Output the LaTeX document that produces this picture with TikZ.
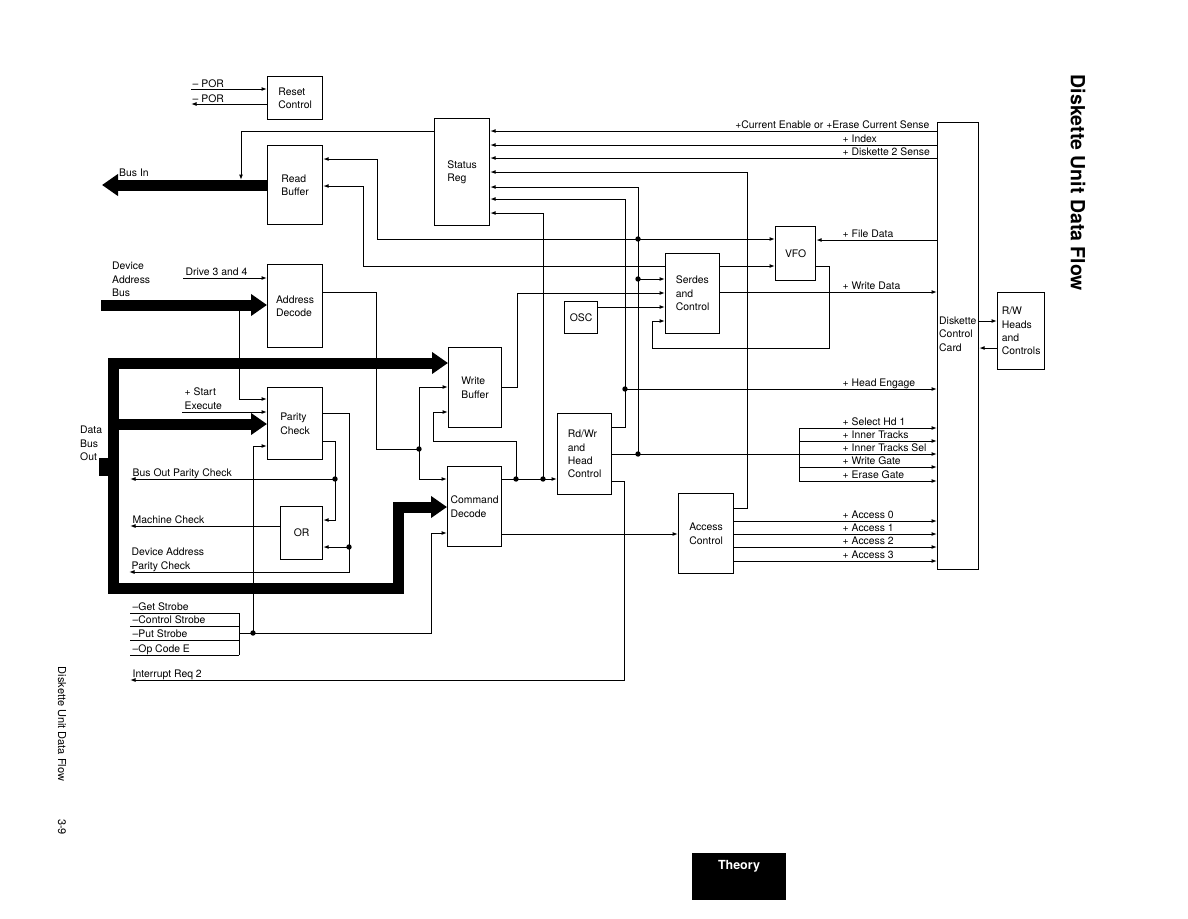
\documentclass[tikz,border=0pt]{standalone}
\usepackage{fontspec}
\setmainfont{TeX Gyre Heros}
\usetikzlibrary{arrows.meta}

\begin{document}
\begin{tikzpicture}[x=1pt,y=-1pt,
  font=\fontsize{10.4}{13.4}\selectfont,
  unitbox/.style={draw,line width=1.2pt,anchor=north west,align=left,inner sep=1pt},
  sigline/.style={line width=1pt},
  sigarrow/.style={sigline,-{Latex[length=5.5pt,width=4pt]}},
  busarrow/.style={line width=11pt,-{Triangle[length=16pt,width=21pt]}},
  siglabel/.style={anchor=south west,inner sep=2.5pt,text depth=0pt,align=left}
]
  \useasboundingbox (0,0) rectangle (1188,918);

  \node[unitbox,minimum width=55,minimum height=43] (reset) at (267,76) {Reset\\Control};
  \node[unitbox,minimum width=55,minimum height=79] (readbuf) at (267,145) {Read\\Buffer};
  \node[unitbox,minimum width=55,minimum height=107] (statreg) at (434,118) {Status\\Reg};
  \node[unitbox,minimum width=55,minimum height=83] (addrdec) at (267,264) {Address\\Decode};
  \node[unitbox,minimum width=55,minimum height=72] (parity) at (267,387) {Parity\\Check};
  \node[unitbox,minimum width=42,minimum height=53] (orgate) at (280,506) {OR};
  \node[unitbox,minimum width=53,minimum height=80] (writebuf) at (448,347) {Write\\Buffer};
  \node[unitbox,minimum width=54,minimum height=80] (cmddec) at (447,466) {Command\\Decode};
  \node[unitbox,minimum width=54,minimum height=81] (rdwr) at (557,413) {Rd/Wr\\and\\Head\\Control};
  \node[unitbox,minimum width=33,minimum height=32] (osc) at (564,301) {OSC};
  \node[unitbox,minimum width=54,minimum height=80] (serdes) at (665,253) {Serdes\\and\\Control};
  \node[unitbox,minimum width=40,minimum height=54] (vfo) at (775,226) {VFO};
  \node[unitbox,minimum width=55,minimum height=80] (access) at (678,493) {Access\\Control};
  \node[unitbox,minimum width=41,minimum height=447] (ctrlcard) at (937,122) {};
  \node[anchor=west,align=left,inner sep=1pt] (cardtext) at (938,334) {Diskette\\Control\\Card};
  \node[unitbox,minimum width=47,minimum height=77] (rwheads) at (997,292) {R/W\\Heads\\and\\Controls};

  % reset and buses on the left
  \node[siglabel,inner sep=1.5pt] (porin) at (191,89) {-- POR};
  \node[siglabel,inner sep=1.5pt] (porout) at (191,104) {-- POR};
  \draw[sigarrow] (porin.south west) -- (reset.west |- porin.south west);
  \draw[sigarrow] (reset.west |- porout.south west) -- (porout.south west);

  \node[anchor=base west,inner sep=0pt] (businlbl) at (119,176) {Bus In};
  \coordinate (businend) at (102,185);
  \coordinate (busintap) at (241,180);
  \draw[busarrow] (readbuf.west |- businend) -- (businend);
  \draw[sigarrow] (statreg.west |- 0,131) -| (busintap);

  \node[anchor=north west,align=left,inner sep=0pt] (devbuslbl) at (112,262) {Device\\Address\\Bus};
  \coordinate (devbusstart) at (101,305);
  \coordinate (devbustap) at (239,305);
  \draw[busarrow] (devbusstart) -- (addrdec.west |- devbusstart);
  \node[siglabel] (drive) at (183,278) {Drive 3 and 4};
  \draw[sigarrow] (drive.south west) -- (addrdec.west |- drive.south west);
  \draw[sigarrow] (devbustap) |- (parity.west |- 0,399);

  \node[anchor=north west,align=left,inner sep=0pt] (databuslbl) at (80,426) {Data\\Bus\\Out};
  \coordinate (datacorner) at (113,588);
  \fill (99,458) rectangle (110,476);
  \draw[busarrow,line cap=rect] (datacorner) -- (113,363) -- (writebuf.west |- 0,363);
  \draw[busarrow,line cap=rect] (datacorner) -- (398,588) -- (398,507) -- (cmddec.west |- 0,507);
  \draw[busarrow] (113,424) -- (parity.west |- 0,424);

  \node[siglabel] (startexec) at (182,412) {+ Start\\Execute};
  \draw[sigarrow] (startexec.south west) -- (parity.west |- startexec.south west);

  % parity check outputs
  \node[siglabel] (busoutpc) at (130,479) {Bus Out Parity Check};
  \node[siglabel] (machchk) at (130,526) {Machine Check};
  \node[siglabel] (devaddrpc) at (129,572) {Device Address\\Parity Check};
  \draw[sigarrow] (parity.east |- 0,413) -| (349,572) -- (devaddrpc.south west);
  \draw[sigarrow] (349,547) -- (orgate.east |- 0,547);
  \draw[sigarrow] (parity.east |- 0,441) -| (335,520) -- (orgate.east |- 0,520);
  \draw[sigarrow] (335,479) -- (busoutpc.south west);
  \draw[sigarrow] (orgate.west |- 0,526) -- (machchk.south west);

  % strobes
  \foreach \name/\yy/\txt in {getstb/613/Get Strobe,ctlstb/626/Control Strobe,putstb/640/Put Strobe,opcode/655/Op Code E} {
    \node[siglabel] (\name) at (130,\yy) {--\txt};
    \draw[sigline] (\name.south west) -- (239,\yy);
  }
  \draw[sigline] (239,613) -- (239,655);
  \coordinate (stbjoin) at (239,633);
  \draw[sigarrow] (stbjoin) -| (431,533) -- (cmddec.west |- 0,533);
  \draw[sigarrow] (253,633) |- (parity.west |- 0,446);

  \node[siglabel] (intreq) at (130,680) {Interrupt Req 2};
  \draw[sigarrow] (rdwr.east |- 0,481) -| (624,680) -- (intreq.south west);

  % status register inputs
  \node[siglabel,anchor=south east] (curenable) at (932,131) {+Current Enable or +Erase Current Sense};
  \node[siglabel] (index) at (840,145) {+ Index};
  \node[siglabel] (dsk2) at (840,158) {+ Diskette 2 Sense};
  \foreach \yy in {131,145,158}
    \draw[sigarrow] (ctrlcard.west |- 0,\yy) -- (statreg.east |- 0,\yy);
  \draw[sigarrow] (access.east |- 0,508) -| (747,172) -- (statreg.east |- 0,172);
  \draw[sigarrow] (638,454) -- (638,187) -- (statreg.east |- 0,187);
  \draw[sigarrow] (rdwr.east |- 0,427) -| (625,199) -- (statreg.east |- 0,199);
  \draw[sigarrow] (543,479) -- (543,213) -- (statreg.east |- 0,213);

  % read buffer, serdes and vfo
  \draw[sigarrow] (638,239) -- (vfo.west |- 0,239);
  \draw[sigarrow] (638,239) -- (377,239) |- (readbuf.east |- 0,159);
  \draw[sigarrow] (serdes.west |- 0,266) -- (363,266) |- (readbuf.east |- 0,186);
  \draw[sigarrow] (serdes.east |- 0,266) -- (vfo.west |- 0,266);
  \draw[sigarrow] (638,279) -- (serdes.west |- 0,279);
  \draw[sigarrow] (writebuf.east |- 0,387) -| (517,293) -- (serdes.west |- 0,293);
  \draw[sigarrow] (osc.east |- 0,307) -- (serdes.west |- 0,307);
  \draw[sigarrow] (vfo.east |- 0,266) -| (829,348) -| (652,321) -- (serdes.west |- 0,321);

  \node[siglabel] (filedata) at (840,240) {+ File Data};
  \draw[sigarrow] (ctrlcard.west |- 0,240) -- (vfo.east |- 0,240);
  \node[siglabel] (writedata) at (840,292) {+ Write Data};
  \draw[sigarrow] (serdes.east |- 0,292) -- (ctrlcard.west |- 0,292);
  \node[siglabel] (headeng) at (840,389) {+ Head Engage};
  \draw[sigarrow] (625,389) -- (ctrlcard.west |- 0,389);

  \draw[sigline] (rdwr.east |- 0,454) -- (799,454);
  \draw[sigline] (799,428) -- (799,481);
  \foreach \yy/\txt in {428/+ Select Hd 1,441/+ Inner Tracks,454/+ Inner Tracks Sel,467/+ Write Gate,481/+ Erase Gate} {
    \node[siglabel] (hd\yy) at (840,\yy) {\txt};
    \draw[sigarrow] (799,\yy) -- (ctrlcard.west |- 0,\yy);
  }

  % address decode and command decode
  \draw[sigline] (addrdec.east |- 0,292) -| (376,449) -- (419,449);
  \draw[sigarrow] (419,449) |- (writebuf.west |- 0,387);
  \draw[sigarrow] (419,449) |- (cmddec.west |- 0,479);
  \draw[sigarrow] (cmddec.east |- 0,479) -- (rdwr.west |- 0,479);
  \draw[sigarrow] (516,479) |- (433,441) |- (writebuf.west |- 0,412);
  \draw[sigarrow] (cmddec.east |- 0,534) -- (access.west |- 0,534);

  \foreach \yy/\n in {521/0,534/1,547/2,561/3} {
    \node[siglabel] (acc\n) at (840,\yy) {+ Access \n};
    \draw[sigarrow] (access.east |- 0,\yy) -- (ctrlcard.west |- 0,\yy);
  }

  \draw[sigarrow] (ctrlcard.east |- 0,321) -- (rwheads.west |- 0,321);
  \draw[sigarrow] (rwheads.west |- 0,348) -- (ctrlcard.east |- 0,348);

  \foreach \p in {(638,239),(638,279),(638,454),(625,389),(543,479),(516,479),(419,449),(335,479),(349,547),(253,633)}
    \fill \p circle (2.7);

  % page furniture
  \node[rotate=-90,font=\bfseries\fontsize{19.5}{22}\selectfont] (title) at (1078,183) {Diskette Unit Data Flow};
  \node[rotate=-90,font=\fontsize{11}{13}\selectfont] (foottitle) at (62,724) {Diskette Unit Data Flow};
  \node[rotate=-90,font=\fontsize{11}{13}\selectfont] (pageno) at (62,827) {3-9};
  \node[fill=black,minimum width=94,minimum height=47,anchor=north west,inner sep=0pt] (tab) at (692,853) {};
  \node[text=white,font=\bfseries\fontsize{12.5}{14}\selectfont] (tabtext) at (739,866) {Theory};
\end{tikzpicture}
\end{document}
